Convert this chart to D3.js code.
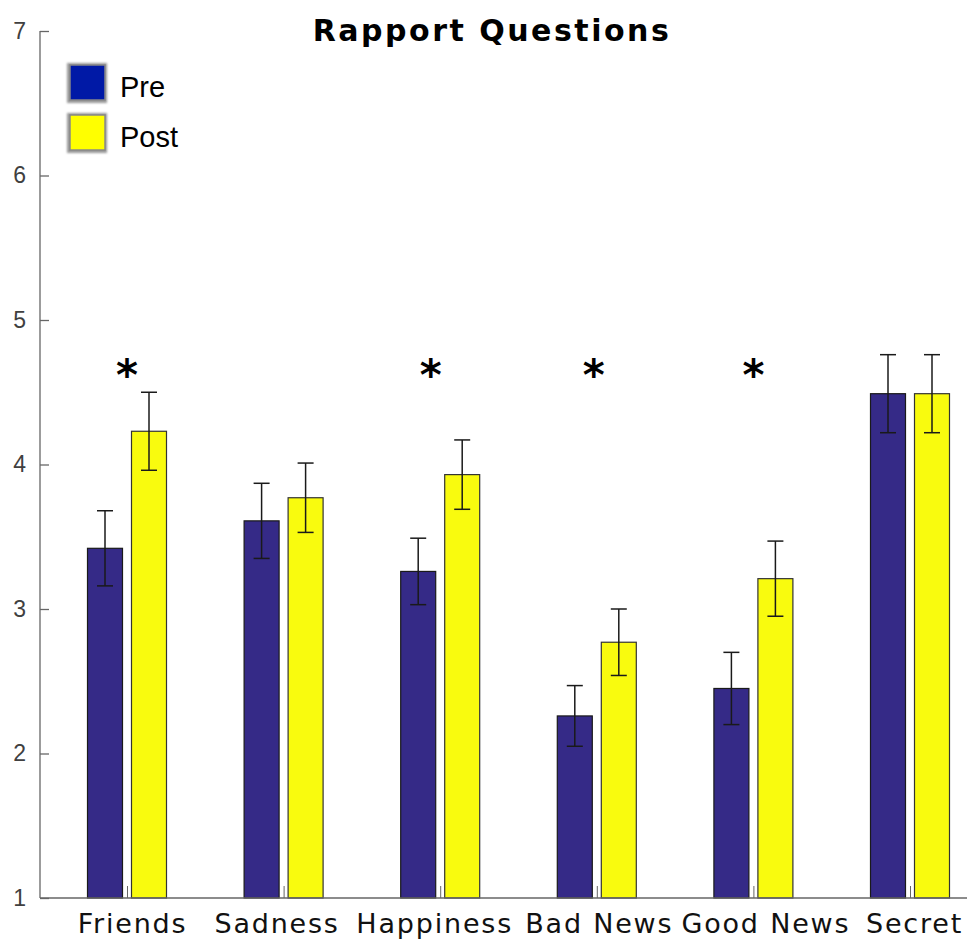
<!DOCTYPE html>
<html>
<head>
<meta charset="utf-8">
<script src="https://cdn.jsdelivr.net/npm/d3@7"></script>
<style>
  html, body { margin: 0; padding: 0; background: #fff; }
  svg { display: block; }
</style>
</head>
<body>
<svg id="chart" width="967" height="943"></svg>
<script>
// Rapport questionnaire: mean ratings before and after, with standard errors
const categories = ["Friends", "Sadness", "Happiness", "Bad News", "Good News", "Secret"];
const preMeans  = [3.42, 3.61, 3.26, 2.26, 2.45, 4.49];
const preErr    = [0.26, 0.26, 0.23, 0.21, 0.25, 0.27];
const postMeans = [4.23, 3.77, 3.93, 2.77, 3.21, 4.49];
const postErr   = [0.27, 0.24, 0.24, 0.23, 0.26, 0.27];
const seriesNames = ["Pre", "Post"];
const yTicks = [1, 2, 3, 4, 5, 6, 7];
// significance markers, placed at category positions (1-based)
const starPositions = [1.0, 2.94, 3.98, 5.0];

const svg = d3.select("#chart");
const preColor = "#352a87", postColor = "#f9fb0e";

const y = d3.scaleLinear().domain([1, 7]).range([898, 31]);
const x = d3.scaleLinear().domain([1, 6]).range([127, 910]);
const barW = 35, half = 22;

// bars
const series = [
  { name: "Pre",  means: preMeans,  errs: preErr,  color: preColor,  off: -half, stroke: "#1a1a1a" },
  { name: "Post", means: postMeans, errs: postErr, color: postColor, off:  half, stroke: "#333" }
];

series.forEach(s => {
  const g = svg.append("g");
  s.means.forEach((m, i) => {
    const cx = x(i + 1) + s.off;
    g.append("rect")
      .attr("x", cx - barW / 2)
      .attr("y", y(m))
      .attr("width", barW)
      .attr("height", y(1) - y(m))
      .attr("fill", s.color)
      .attr("stroke", s.stroke)
      .attr("stroke-width", 1.2);
  });
});

// error bars
series.forEach(s => {
  const g = svg.append("g").attr("stroke", "#1a1a1a").attr("stroke-width", 1.5);
  s.means.forEach((m, i) => {
    const cx = x(i + 1) + s.off;
    const top = y(m + s.errs[i]), bot = y(m - s.errs[i]);
    g.append("line").attr("x1", cx).attr("x2", cx).attr("y1", top).attr("y2", bot);
    g.append("line").attr("x1", cx - 8).attr("x2", cx + 8).attr("y1", top).attr("y2", top);
    g.append("line").attr("x1", cx - 8).attr("x2", cx + 8).attr("y1", bot).attr("y2", bot);
  });
});

// axes
const axisColor = "#666";
const yAxis = d3.axisLeft(y).tickValues(yTicks).tickSize(-9).tickPadding(14).tickFormat(d3.format("d"));
const gy = svg.append("g").attr("transform", "translate(40,0)").call(yAxis);
gy.select(".domain").attr("stroke", axisColor).attr("stroke-width", 1.3).attr("d", `M0,${y(7)}V${y(1)}`);
gy.selectAll(".tick line").attr("stroke", axisColor).attr("stroke-width", 1.3);
gy.selectAll(".tick text").attr("fill", "#404040")
  .style("font-family", "'Liberation Sans', Arial, sans-serif").style("font-size", "23px");

const xAxis = d3.axisBottom(x).tickValues(d3.range(1, 7)).tickSize(-12).tickPadding(16)
  .tickFormat(d => categories[d - 1]);
const gx = svg.append("g").attr("transform", `translate(0,${y(1)})`).call(xAxis);
gx.select(".domain").attr("stroke", axisColor).attr("stroke-width", 1.3).attr("d", "M40,0H967");
gx.selectAll(".tick line").attr("stroke", axisColor).attr("stroke-width", 1);
// small horizontal nudges keep the long neighbouring labels apart
const labelNudge = [5, -7, -6, 2, 12, 4];
gx.selectAll(".tick text").attr("fill", "#111")
  .attr("dx", (d, i) => labelNudge[i])
  .style("font-family", "'DejaVu Sans', sans-serif").style("font-size", "27px")
  .style("letter-spacing", "1.8px");

// significance stars
svg.append("g").selectAll("text").data(starPositions).join("text")
  .attr("x", d => x(d))
  .attr("y", 390)
  .attr("text-anchor", "middle")
  .style("font-family", "'DejaVu Sans', sans-serif")
  .style("font-weight", "bold")
  .style("font-size", "42px")
  .attr("fill", "#000")
  .text("*");

// title
svg.append("text")
  .attr("x", 492).attr("y", 41)
  .attr("text-anchor", "middle")
  .style("font-family", "'DejaVu Sans', sans-serif")
  .style("font-weight", "bold")
  .style("font-size", "30px")
  .style("letter-spacing", "2.5px")
  .attr("fill", "#000")
  .text("Rapport Questions");

// legend
const defs = svg.append("defs");
const f = defs.append("filter").attr("id", "soft").attr("x", "-30%").attr("y", "-30%").attr("width", "160%").attr("height", "160%");
f.append("feGaussianBlur").attr("stdDeviation", 1.2);
const legendColors = ["#0019a6", "#ffff00"];
const lg = svg.append("g");
seriesNames.forEach((n, i) => {
  const yy = 65 + i * 50;
  lg.append("rect").attr("x", 67).attr("y", yy - 2).attr("width", 40).attr("height", 40)
    .attr("fill", "#999").attr("filter", "url(#soft)");
  lg.append("rect").attr("x", 70).attr("y", yy).attr("width", 35).attr("height", 35)
    .attr("fill", legendColors[i]).attr("stroke", "#888").attr("stroke-width", 1.5);
  lg.append("text").attr("x", 120).attr("y", yy + 32)
    .style("font-family", "'Liberation Sans', Arial, sans-serif")
    .style("font-size", "29px").attr("fill", "#000").text(n);
});
</script>
</body>
</html>
